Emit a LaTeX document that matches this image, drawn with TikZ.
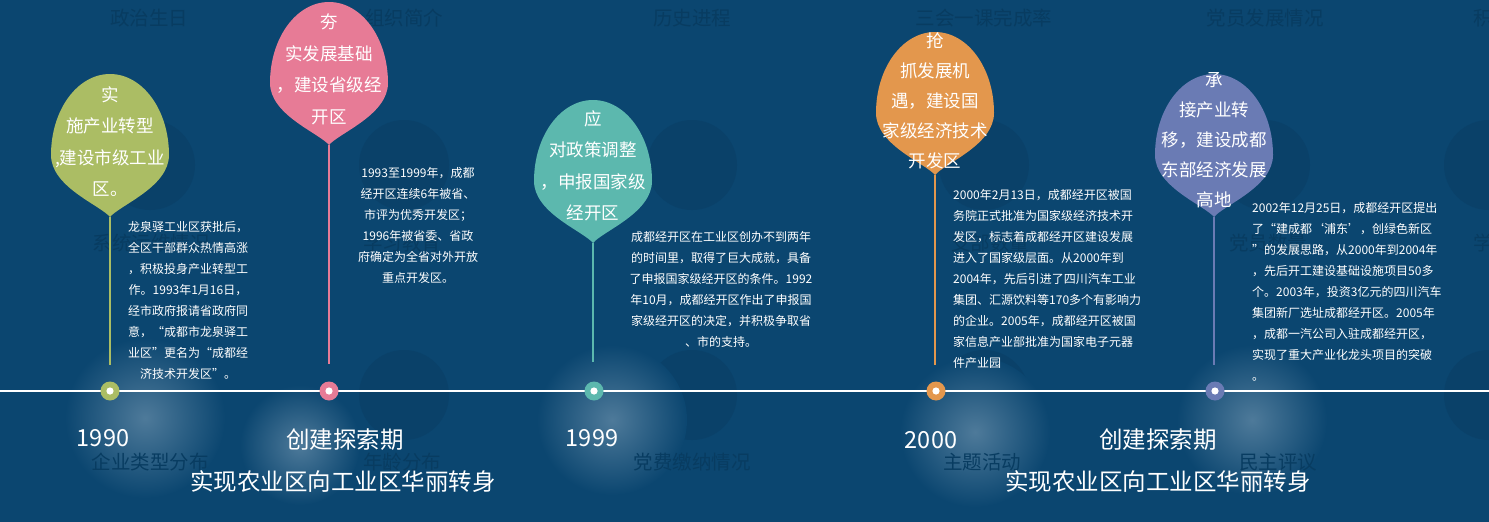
\documentclass[tikz,border=0pt]{standalone}
\usepackage{fontspec}
\setmainfont{Noto Sans CJK SC}
\definecolor{bg}{HTML}{0B4670}
\definecolor{faint}{HTML}{083C61}
\definecolor{disk}{HTML}{0A4169}
\definecolor{glow}{HTML}{4E7A9A}
\definecolor{cgreen}{HTML}{ABBD64}
\definecolor{cpink}{HTML}{E77B96}
\definecolor{cteal}{HTML}{5CB8AE}
\definecolor{corange}{HTML}{E3974D}
\definecolor{cpurple}{HTML}{6A7BB4}
\begin{document}
\begin{tikzpicture}[x=1pt,y=-1pt,
  stemline/.style={line width=2pt},
  tdot/.style={circle, fill=#1, minimum size=19pt, inner sep=0pt,
    path picture={\fill[white] (path picture bounding box.center) circle[radius=3.6pt];}},
  btext/.style={text=white, font=\fontsize{17.5}{31.5}\selectfont, align=center, inner sep=0pt, anchor=north},
  bodytext/.style={text=white, font=\fontsize{12}{21}\selectfont, inner sep=0pt},
  yearlabel/.style={text=white, font=\fontsize{23.5}{28}\selectfont, inner sep=0pt},
  ghosttext/.style={text=faint, font=\fontsize{19.5}{24}\selectfont, inner sep=0pt},
  balloon/.pic={\path[pic actions] (0,0) .. controls (-10,-12) and (-59,-30) .. (-59,-62)
     .. controls (-59,-107) and (-32.6,-143) .. (0,-143)
     .. controls (32.6,-143) and (59,-107) .. (59,-62)
     .. controls (59,-30) and (10,-12) .. (0,0) -- cycle;}
]
% background
\fill[bg] (0,0) rectangle (1489,522);
\useasboundingbox (0,0) rectangle (1489,522);
\begin{scope}
\clip (0,0) rectangle (1489,522);
% faint background disks
\foreach \x in {150,404,692,984,1265,1489}{
  \fill[disk] (\x,165) circle (45);
  \fill[disk] (\x,395) circle (45);
}
% glows
\foreach \gx/\gy/\gr in {145/418/80,300/445/60,612/420/75,975/432/75,1252/420/75}{
  \shade[inner color=glow, outer color=bg] (\gx,\gy) circle (\gr);
}
% faint background texts
\node[ghosttext] (g1) at (149,18) {政治生日};
\node[ghosttext] (g2) at (404,18) {组织简介};
\node[ghosttext] (g3) at (692,18) {历史进程};
\node[ghosttext] (g4) at (984,18) {三会一课完成率};
\node[ghosttext] (g5) at (1265,18) {党员发展情况};
\node[ghosttext, anchor=west] (g6) at (1473,18) {积分管理};
\node[ghosttext] (m1) at (151,243) {系统运维情况};
\node[ghosttext] (m2) at (402,243) {学习教育};
\node[ghosttext] (m4) at (990,243) {支部数量};
\node[ghosttext] (m5) at (1268,243) {党员数量};
\node[ghosttext, anchor=west] (m6) at (1473,243) {学习};
\node[ghosttext] (b1) at (150,462) {企业类型分布};
\node[ghosttext] (b2) at (402,462) {年龄分布};
\node[ghosttext] (b3) at (692,462) {党费缴纳情况};
\node[ghosttext] (b4) at (982,462) {主题活动};
\node[ghosttext] (b5) at (1278,462) {民主评议};
\end{scope}

% timeline
\coordinate (lineL) at (0,391);
\coordinate (lineR) at (1489,391);
\draw[white, line width=2.5pt] (lineL) -- (lineR);

% balloons
\pic[fill=cgreen] at (110,217) {balloon};
\pic[fill=cpink] at (329,145) {balloon};
\pic[fill=cteal] at (593,243) {balloon};
\pic[fill=corange] at (935,175) {balloon};
\pic[fill=cpurple] at (1214,217) {balloon};

% stems
\coordinate (gtip) at (110,217); \coordinate (gend) at (110,365);
\coordinate (ptip) at (329,145); \coordinate (pend) at (329,364);
\coordinate (ttip) at (593,243); \coordinate (tend) at (593,362);
\coordinate (otip) at (935,175); \coordinate (oend) at (935,365);
\coordinate (utip) at (1214,217); \coordinate (uend) at (1214,365);
\draw[stemline, cgreen] (gtip) -- (gend);
\draw[stemline, cpink] (ptip) -- (pend);
\draw[stemline, cteal] (ttip) -- (tend);
\draw[stemline, corange] (otip) -- (oend);
\draw[stemline, cpurple] (utip) -- (uend);

% dots
\node[tdot=cgreen] (gdot) at (110,391) {};
\node[tdot=cpink] (pdot) at (329,391) {};
\node[tdot=cteal] (tdot1) at (594,391) {};
\node[tdot=corange] (odot) at (936,391) {};
\node[tdot=cpurple] (udot) at (1215,391) {};

% balloon texts
\node[btext] (gb) at (110,86) {实\\施产业转型\\,建设市级工业\\区。};
\node[btext] (pb) at (329,14) {夯\\实发展基础\\，建设省级经\\开区};
\node[btext] (tb) at (593,110) {应\\对政策调整\\，申报国家级\\经开区};
\node[btext, font=\fontsize{17.5}{30}\selectfont] (ob) at (935,32) {抢\\抓发展机\\遇，建设国\\家级经济技术\\开发区};
\node[btext, font=\fontsize{17.5}{30}\selectfont] (ub) at (1214,72) {承\\接产业转\\移，建设成都\\东部经济发展\\高地};

% body texts
\node[bodytext, anchor=north, align=center] (gtext) at (188,221)
  {龙泉驿工业区获批后，\\全区干部群众热情高涨\\，积极投身产业转型工\\作。1993年1月16日，\\经市政府报请省政府同\\意，“成都市龙泉驿工\\业区”更名为“成都经\\济技术开发区”。};
\node[bodytext, anchor=north, align=center] (ptext) at (418,167)
  {1993至1999年，成都\\经开区连续6年被省、\\市评为优秀开发区；\\1996年被省委、省政\\府确定为全省对外开放\\重点开发区。};
\node[bodytext, anchor=north, align=center] (ttext) at (721,231)
  {成都经开区在工业区创办不到两年\\的时间里，取得了巨大成就，具备\\了申报国家级经开区的条件。1992\\年10月，成都经开区作出了申报国\\家级经开区的决定，并积极争取省\\、市的支持。};
\node[bodytext, anchor=north west, align=left] (otext) at (953,189)
  {2000年2月13日，成都经开区被国\\务院正式批准为国家级经济技术开\\发区，标志着成都经开区建设发展\\进入了国家级层面。从2000年到\\2004年，先后引进了四川汽车工业\\集团、汇源饮料等170多个有影响力\\的企业。2005年，成都经开区被国\\家信息产业部批准为国家电子元器\\件产业园};
\node[bodytext, anchor=north west, align=left] (utext) at (1252,202)
  {2002年12月25日，成都经开区提出\\了“建成都‘浦东’，创绿色新区\\”的发展思路，从2000年到2004年\\，先后开工建设基础设施项目50多\\个。2003年，投资3亿元的四川汽车\\集团新厂选址成都经开区。2005年\\，成都一汽公司入驻成都经开区，\\实现了重大产业化龙头项目的突破\\。};

% bottom labels
\node[yearlabel] (y1990) at (103,438) {1990};
\node[yearlabel] (per1) at (345,440) {创建探索期};
\node[yearlabel] (sub1) at (343,482) {实现农业区向工业区华丽转身};
\node[yearlabel] (y1999) at (592,438) {1999};
\node[yearlabel] (y2000) at (931,440) {2000};
\node[yearlabel] (per2) at (1158,440) {创建探索期};
\node[yearlabel] (sub2) at (1158,482) {实现农业区向工业区华丽转身};
\end{tikzpicture}
\end{document}
